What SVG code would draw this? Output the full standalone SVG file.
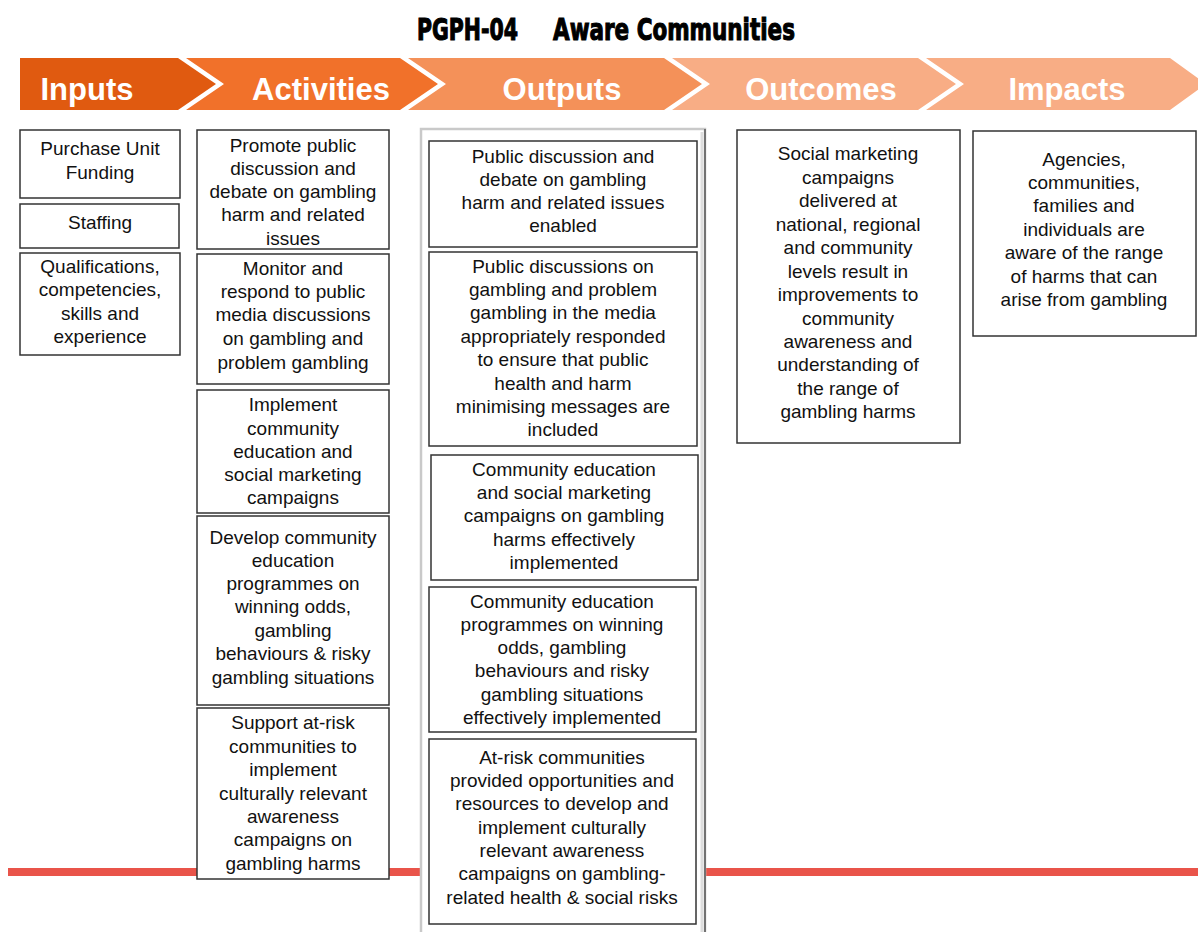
<svg xmlns="http://www.w3.org/2000/svg" width="1198" height="932" viewBox="0 0 1198 932">
  <style>
    .title { font-family: "Liberation Sans Narrow", "DejaVu Sans Condensed", sans-serif; font-weight: bold; font-size: 31px; fill: #000; stroke: #000; stroke-width: 1.1; }
    .stage { font-family: "Liberation Sans", Arial, sans-serif; font-weight: bold; font-size: 31px; fill: #fff; text-anchor: middle; }
    .box { fill: #fff; stroke: #333; stroke-width: 1.5; }
    .t { font-family: "Liberation Sans", Arial, sans-serif; font-size: 19px; fill: #111; text-anchor: middle; }
  </style>

  <rect width="1198" height="932" fill="#fff"/>

  <!-- heading -->
  <text class="title" x="417" y="40" textLength="101" lengthAdjust="spacingAndGlyphs">PGPH-04</text>
  <text class="title" x="553" y="40" textLength="242" lengthAdjust="spacingAndGlyphs">Aware Communities</text>

  <!-- stage banner -->
  <g id="banner">
    <polygon points="20,58 178,58 216,84 178,110 20,110" fill="#E05A10"/>
    <polygon points="186,58 400,58 438,84 400,110 186,110 224,84" fill="#F1712A"/>
    <polygon points="408,58 664,58 702,84 664,110 408,110 446,84" fill="#F49159"/>
    <polygon points="672,58 918,58 956,84 918,110 672,110 710,84" fill="#F8AD85"/>
    <polygon points="926,58 1170,58 1206,84 1170,110 926,110 964,84" fill="#F8AD85"/>
    <text class="stage" x="87" y="100">Inputs</text>
    <text class="stage" x="321" y="100">Activities</text>
    <text class="stage" x="562" y="100">Outputs</text>
    <text class="stage" x="821" y="100">Outcomes</text>
    <text class="stage" x="1067" y="100">Impacts</text>
  </g>

  <!-- timeline rule behind the columns -->
  <g id="connectors">
    <rect x="8" y="868" width="1190" height="8" fill="#E9544A"/>
  </g>

  <!-- outputs column frame -->
  <g id="outputs-frame">
    <rect x="421" y="129" width="284" height="810" fill="#fff" stroke="#c9c9c9" stroke-width="2.5"/>
    <line x1="705" y1="129" x2="705" y2="932" stroke="#555" stroke-width="1.5"/>
    <line x1="702" y1="132" x2="702" y2="932" stroke="#ddd" stroke-width="3"/>
  </g>

  <!-- Inputs -->
  <g id="in1">
    <rect class="box" x="20" y="130" width="160" height="68"/>
    <text class="t" x="100" y="155">Purchase Unit</text>
    <text class="t" x="100" y="179">Funding</text>
  </g>
  <g id="in2">
    <rect class="box" x="20" y="204" width="159" height="44"/>
    <text class="t" x="100" y="229">Staffing</text>
  </g>
  <g id="in3">
    <rect class="box" x="20" y="253" width="160" height="102"/>
    <text class="t" x="100" y="273">Qualifications,</text>
    <text class="t" x="100" y="296">competencies,</text>
    <text class="t" x="100" y="320">skills and</text>
    <text class="t" x="100" y="343">experience</text>
  </g>

  <!-- Activities -->
  <g id="act1">
    <rect class="box" x="197" y="130" width="192" height="119"/>
    <text class="t" x="293" y="152">Promote public</text>
    <text class="t" x="293" y="175">discussion and</text>
    <text class="t" x="293" y="198">debate on gambling</text>
    <text class="t" x="293" y="221">harm and related</text>
    <text class="t" x="293" y="245">issues</text>
  </g>
  <g id="act2">
    <rect class="box" x="197" y="254" width="192" height="130"/>
    <text class="t" x="293" y="275">Monitor and</text>
    <text class="t" x="293" y="298">respond to public</text>
    <text class="t" x="293" y="321">media discussions</text>
    <text class="t" x="293" y="345">on gambling and</text>
    <text class="t" x="293" y="369">problem gambling</text>
  </g>
  <g id="act3">
    <rect class="box" x="197" y="390" width="192" height="123"/>
    <text class="t" x="293" y="411">Implement</text>
    <text class="t" x="293" y="435">community</text>
    <text class="t" x="293" y="458">education and</text>
    <text class="t" x="293" y="481">social marketing</text>
    <text class="t" x="293" y="504">campaigns</text>
  </g>
  <g id="act4">
    <rect class="box" x="197" y="516" width="192" height="189"/>
    <text class="t" x="293" y="544">Develop community</text>
    <text class="t" x="293" y="567">education</text>
    <text class="t" x="293" y="590">programmes on</text>
    <text class="t" x="293" y="613">winning odds,</text>
    <text class="t" x="293" y="637">gambling</text>
    <text class="t" x="293" y="660">behaviours &amp; risky</text>
    <text class="t" x="293" y="684">gambling situations</text>
  </g>
  <g id="act5">
    <rect class="box" x="197" y="708" width="192" height="171"/>
    <text class="t" x="293" y="729">Support at-risk</text>
    <text class="t" x="293" y="753">communities to</text>
    <text class="t" x="293" y="776">implement</text>
    <text class="t" x="293" y="800">culturally relevant</text>
    <text class="t" x="293" y="823">awareness</text>
    <text class="t" x="293" y="846">campaigns on</text>
    <text class="t" x="293" y="870">gambling harms</text>
  </g>

  <!-- Outputs -->
  <g id="out1">
    <rect class="box" x="429" y="141" width="268" height="106"/>
    <text class="t" x="563" y="163">Public discussion and</text>
    <text class="t" x="563" y="186">debate on gambling</text>
    <text class="t" x="563" y="209">harm and related issues</text>
    <text class="t" x="563" y="232">enabled</text>
  </g>
  <g id="out2">
    <rect class="box" x="429" y="252" width="268" height="194"/>
    <text class="t" x="563" y="273">Public discussions on</text>
    <text class="t" x="563" y="296">gambling and problem</text>
    <text class="t" x="563" y="319">gambling in the media</text>
    <text class="t" x="563" y="343">appropriately responded</text>
    <text class="t" x="563" y="366">to ensure that public</text>
    <text class="t" x="563" y="390">health and harm</text>
    <text class="t" x="563" y="413">minimising messages are</text>
    <text class="t" x="563" y="436">included</text>
  </g>
  <g id="out3">
    <rect class="box" x="431" y="455" width="267" height="125"/>
    <text class="t" x="564" y="476">Community education</text>
    <text class="t" x="564" y="499">and social marketing</text>
    <text class="t" x="564" y="522">campaigns on gambling</text>
    <text class="t" x="564" y="546">harms effectively</text>
    <text class="t" x="564" y="569">implemented</text>
  </g>
  <g id="out4">
    <rect class="box" x="429" y="587" width="267" height="145"/>
    <text class="t" x="562" y="608">Community education</text>
    <text class="t" x="562" y="631">programmes on winning</text>
    <text class="t" x="562" y="654">odds, gambling</text>
    <text class="t" x="562" y="677">behaviours and risky</text>
    <text class="t" x="562" y="701">gambling situations</text>
    <text class="t" x="562" y="724">effectively implemented</text>
  </g>
  <g id="out5">
    <rect class="box" x="429" y="739" width="267" height="185"/>
    <text class="t" x="562" y="764">At-risk communities</text>
    <text class="t" x="562" y="787">provided opportunities and</text>
    <text class="t" x="562" y="810">resources to develop and</text>
    <text class="t" x="562" y="834">implement culturally</text>
    <text class="t" x="562" y="857">relevant awareness</text>
    <text class="t" x="562" y="880">campaigns on gambling-</text>
    <text class="t" x="562" y="904">related health &amp; social risks</text>
  </g>

  <!-- Outcomes -->
  <g id="outcome1">
    <rect class="box" x="737" y="130" width="223" height="313"/>
    <text class="t" x="848" y="160">Social marketing</text>
    <text class="t" x="848" y="184">campaigns</text>
    <text class="t" x="848" y="207">delivered at</text>
    <text class="t" x="848" y="231">national, regional</text>
    <text class="t" x="848" y="254">and community</text>
    <text class="t" x="848" y="278">levels result in</text>
    <text class="t" x="848" y="301">improvements to</text>
    <text class="t" x="848" y="325">community</text>
    <text class="t" x="848" y="348">awareness and</text>
    <text class="t" x="848" y="371">understanding of</text>
    <text class="t" x="848" y="395">the range of</text>
    <text class="t" x="848" y="418">gambling harms</text>
  </g>

  <!-- Impacts -->
  <g id="impact1">
    <rect class="box" x="973" y="131" width="223" height="205"/>
    <text class="t" x="1084" y="166">Agencies,</text>
    <text class="t" x="1084" y="189">communities,</text>
    <text class="t" x="1084" y="212">families and</text>
    <text class="t" x="1084" y="236">individuals are</text>
    <text class="t" x="1084" y="259">aware of the range</text>
    <text class="t" x="1084" y="283">of harms that can</text>
    <text class="t" x="1084" y="306">arise from gambling</text>
  </g>
</svg>
